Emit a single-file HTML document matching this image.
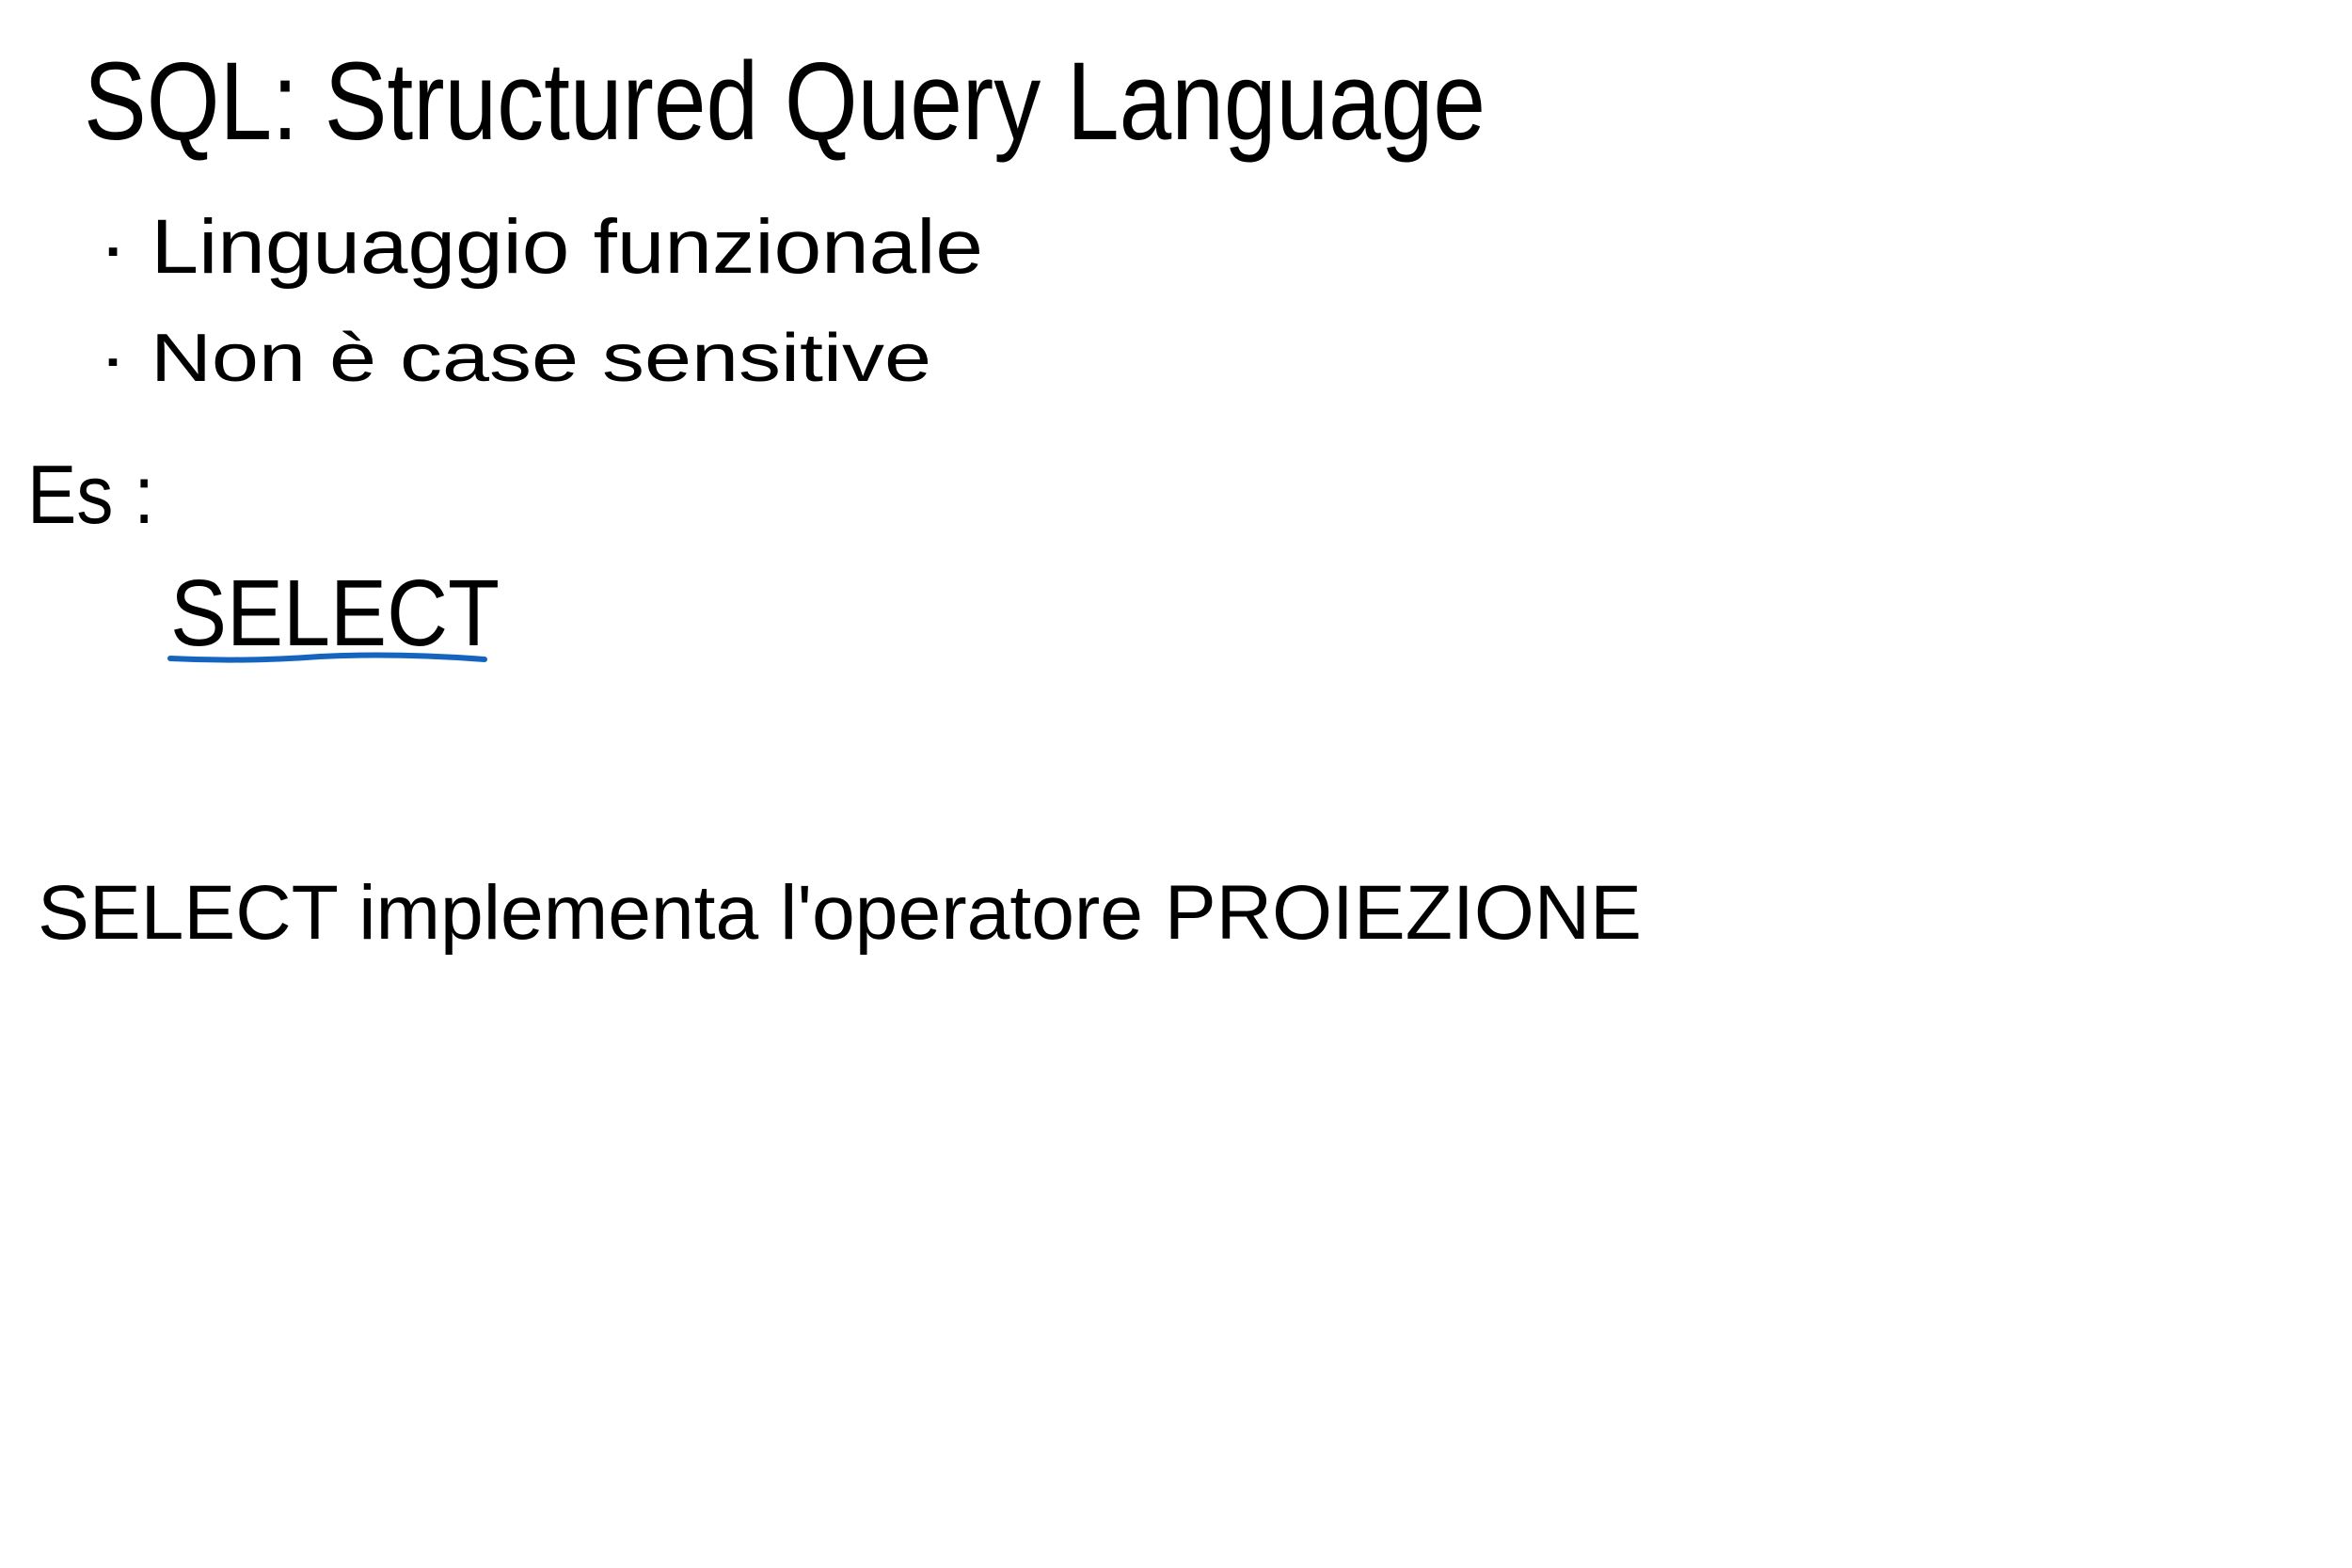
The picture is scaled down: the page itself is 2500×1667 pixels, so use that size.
<!DOCTYPE html>
<html>
<head>
<meta charset="utf-8">
<style>
  html,body{margin:0;padding:0;background:#fff;}
  svg{display:block;}
  text{font-family:"Liberation Sans",sans-serif;fill:#000;}
</style>
</head>
<body>
<svg width="2500" height="1667" viewBox="0 0 2500 1667">
  <rect width="2500" height="1667" fill="#fff"/>
  <text x="89" y="148" font-size="118" textLength="1490" lengthAdjust="spacingAndGlyphs" font-weight="normal">SQL: Structured Query Language</text>
  <text x="105" y="290" font-size="82" textLength="940" lengthAdjust="spacingAndGlyphs">· Linguaggio   funzionale</text>
  <text x="105" y="405" font-size="72" textLength="885" lengthAdjust="spacingAndGlyphs">· Non  è  case  sensitive</text>
  <text x="29" y="556" font-size="88" textLength="135" lengthAdjust="spacingAndGlyphs">Es :</text>
  <text x="181" y="686" font-size="100" textLength="350" lengthAdjust="spacingAndGlyphs">SELECT</text>
  <path d="M181 700 Q260 704 340 698 Q420 694 515 701" stroke="#1565c0" stroke-width="6" fill="none" stroke-linecap="round"/>
  <text x="40" y="998" font-size="82" textLength="1705" lengthAdjust="spacingAndGlyphs">SELECT   implementa  l'operatore  PROIEZIONE</text>
</svg>
</body>
</html>
